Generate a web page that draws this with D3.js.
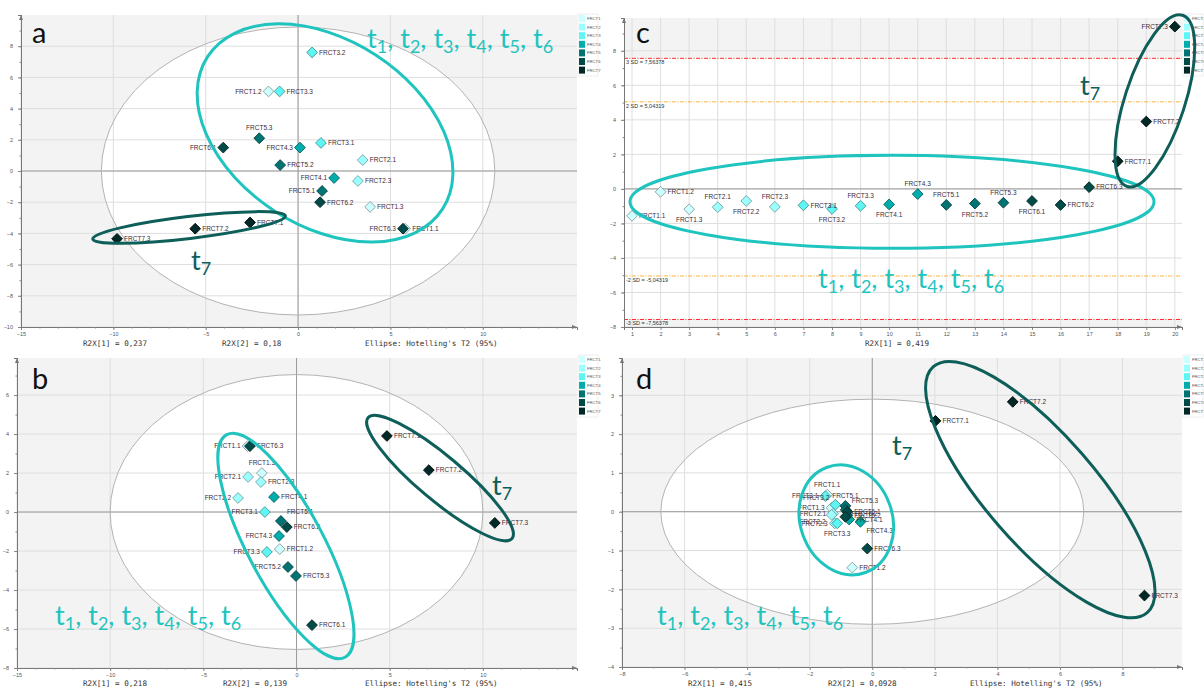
<!DOCTYPE html>
<meta charset="utf-8">
<html>
    <head>
        <style>
            html, body {
                margin: 0;
                padding: 0;
                background: #fff;
            }

            svg {
                display: block;
            }

            .tick text {
                font-family: "Liberation Sans", Arial, sans-serif;
                font-size: 5.5px;
                fill: #555;
            }

            .pt-label {
                font-family: "Liberation Sans", Arial, sans-serif;
                font-size: 6.5px;
                fill: #3b2b3b;
            }

            .stat {
                font-family: "DejaVu Sans Mono", monospace;
                font-size: 7.6px;
                fill: #333;
            }

            .letter {
                font-family: Lato, "Open Sans", sans-serif;
                font-size: 29px;
                fill: #111;
            }

            .note {
                font-family: Lato, "Open Sans", sans-serif;
                font-size: 27px;
            }
        </style>
    </head>
    <body>
        <svg width="1204" height="691"></svg>

        <script src="https://cdn.jsdelivr.net/npm/d3@7"></script>
        <script>
            var groupNames = ["FRCT1", "FRCT2", "FRCT3", "FRCT4", "FRCT5", "FRCT6", "FRCT7"];
            var groupColors = ["#ccffff", "#9cffff", "#5ef5f5", "#00adad", "#007373", "#004a47", "#002826"];
            var groupStrokes = ["#8fa0a0", "#7aa3a3", "#4d9898", "#0b6363", "#0c4444", "#082a28", "#040f0f"];

            // a: score plot, t[1] vs t[2]
            var aSample = ["FRCT1.1", "FRCT1.2", "FRCT1.3", "FRCT2.1", "FRCT2.3", "FRCT3.1", "FRCT3.2", "FRCT3.3",
                "FRCT4.1", "FRCT4.3", "FRCT5.1", "FRCT5.2", "FRCT5.3", "FRCT6.1", "FRCT6.2", "FRCT6.3",
                "FRCT7.1", "FRCT7.2", "FRCT7.3"];
            var aT1 = [5.8, -1.6, 3.9, 3.5, 3.24, 1.24, 0.76, -1.0, 1.95, 0.1, 1.3, -0.97, -2.1, -4.05, 1.19, 5.68, -2.6, -5.57, -9.8];
            var aT2 = [-3.7, 5.1, -2.3, 0.7, -0.64, 1.8, 7.6, 5.1, -0.45, 1.5, -1.28, 0.38, 2.1, 1.5, -2.0, -3.7, -3.3, -3.7, -4.35];
            var aSide = ["r", "l", "r", "r", "r", "r", "r", "r", "l", "l", "l", "r", "t", "l", "r", "l", "r", "r", "r"];

            // b: score plot, t[1] vs t[2]
            var bSample = ["FRCT1.1", "FRCT1.2", "FRCT1.3", "FRCT2.1", "FRCT2.2", "FRCT2.3", "FRCT3.1", "FRCT3.3",
                "FRCT4.1", "FRCT4.3", "FRCT5.1", "FRCT5.2", "FRCT5.3", "FRCT6.1", "FRCT6.2", "FRCT6.3",
                "FRCT7.1", "FRCT7.2", "FRCT7.3"];
            var bT1 = [-2.63, -0.9, -1.86, -2.6, -3.14, -1.91, -1.7, -1.59, -1.21, -0.94, -0.84, -0.46, -0.03, 0.83, -0.52, -2.5, 4.85, 7.1, 10.64];
            var bT2 = [3.38, -1.9, 2.0, 1.8, 0.72, 1.54, 0.0, -2.05, 0.77, -1.23, -0.46, -2.82, -3.28, -5.8, -0.77, 3.38, 3.9, 2.15, -0.56];
            var bSide = ["l", "r", "t", "l", "l", "r", "l", "l", "r", "l", "ur", "l", "r", "r", "r", "r", "r", "r", "r"];

            // c: t[1] by observation number, with SD limits
            var cSample = ["FRCT1.1", "FRCT1.2", "FRCT1.3", "FRCT2.1", "FRCT2.2", "FRCT2.3", "FRCT3.1", "FRCT3.2", "FRCT3.3",
                "FRCT4.1", "FRCT4.3", "FRCT5.1", "FRCT5.2", "FRCT5.3", "FRCT6.1", "FRCT6.2", "FRCT6.3",
                "FRCT7.1", "FRCT7.2", "FRCT7.3"];
            var cNum = d3.range(1, 21);
            var cT1 = [-1.56, -0.17, -1.18, -1.06, -0.7, -1.04, -0.95, -1.16, -0.98, -0.9, -0.3, -0.93, -0.85, -0.8, -0.7, -0.93, 0.1, 1.6, 3.9, 9.4];
            var cSide = ["r", "r", "b", "t", "b", "t", "r", "b", "t", "b", "t", "t", "b", "t", "b", "r", "r", "r", "r", "l"];
            var cLimits = [7.56378, 5.04319, -5.04319, -7.56378];
            var cLimitText = ["3 SD = 7,56378", "2 SD = 5,04319", "-2 SD = -5,04319", "-3 SD = -7,56378"];

            // d: score plot, t[1] vs t[2]
            var dSample = ["FRCT1.1", "FRCT1.2", "FRCT1.3", "FRCT2.1", "FRCT2.2", "FRCT2.3", "FRCT3.1", "FRCT3.2", "FRCT3.3",
                "FRCT4.1", "FRCT4.3", "FRCT5.1", "FRCT5.2", "FRCT5.3", "FRCT6.1", "FRCT6.2", "FRCT6.3",
                "FRCT7.1", "FRCT7.2", "FRCT7.3"];
            var dT1 = [-1.44, -0.64, -1.3, -1.25, -1.3, -1.2, -1.5, -1.18, -1.12, -0.74, -0.38, -0.86, -0.8, -0.85, -0.8, -0.86, -0.16, 2.02, 4.49, 8.7];
            var dT2 = [0.44, -1.44, 0.1, -0.05, -0.08, -0.3, 0.4, 0.18, -0.3, -0.2, -0.26, 0.15, -0.1, 0.05, 0.0, -0.13, -0.95, 2.34, 2.83, -2.16];
            var dSide = ["t", "r", "l", "l", "bl", "l", "l", "tl", "b", "r", "br", "t", "r", "ur", "r", "ur2", "r", "r", "r", "r"];

            var svg = d3.select("svg");

            // where a point label goes: dx, dy, anchor
            var labelPlace = {
                r: [7, 2.3, "start"],
                l: [-7, 2.3, "end"],
                t: [0, -8, "middle"],
                b: [0, 13, "middle"],
                ur: [6, -7, "start"],
                ur2: [6, -1, "start"],
                br: [6, 11, "start"],
                bl: [-6, 9, "end"],
                tl: [-6, -5, "end"]
            };

            var panels = [
                {
                    letter: "a", letterPos: [32, 43], box: [21, 577, 15, 327],
                    xDomain: [-15, 15.1], yDomain: [-10, 10],
                    xTicks: [-15, -10, -5, 0, 5, 10], yTicks: d3.range(-10, 9, 2),
                    xMinor: d3.range(-15, 16, 1), yMinor: d3.range(-10, 10, 1),
                    samples: aSample, xs: aT1, ys: aT2, side: aSide,
                    hotelling: [10.65, 9.23], zeroX: true,
                    stats: [["R2X[1] = 0,237", 83], ["R2X[2] = 0,18", 222], ["Ellipse: Hotelling's T2 (95%)", 365]], statY: 346,
                    legend: [579, 15],
                    rings: [
                        {c: [1.46, 2.44], r: [140, 93], rot: 33, col: "#1fc4bf"},
                        {c: [-5.9, -3.62], r: [97, 11], rot: -6.8, col: "#0e5e59"}
                    ],
                    notes: [{t: [1, 2, 3, 4, 5, 6], at: [367, 48], col: "#1fc4bf"}, {t: [7], at: [191, 270], col: "#0e5e59"}]
                },
                {
                    letter: "b", letterPos: [32, 389], box: [17, 577, 358, 668],
                    xDomain: [-15, 15.05], yDomain: [-8, 7.9],
                    xTicks: [-15, -10, -5, 0, 5, 10], yTicks: d3.range(-8, 7, 2),
                    xMinor: d3.range(-15, 16, 1), yMinor: d3.range(-8, 8, 1),
                    samples: bSample, xs: bT1, ys: bT2, side: bSide,
                    hotelling: [10, 7.05], zeroX: true,
                    stats: [["R2X[1] = 0,218", 83], ["R2X[2] = 0,139", 223], ["Ellipse: Hotelling's T2 (95%)", 365]], statY: 686,
                    legend: [579, 356],
                    rings: [
                        {c: [-0.57, -1.74], r: [126, 38], rot: 62, col: "#1fc4bf"},
                        {c: [7.7, 1.74], r: [94, 22], rot: 40, col: "#0e5e59"}
                    ],
                    notes: [{t: [1, 2, 3, 4, 5, 6], at: [55, 625], col: "#1fc4bf"}, {t: [7], at: [492, 495], col: "#0e5e59"}]
                },
                {
                    letter: "c", letterPos: [636, 43], box: [624, 1182, 18, 327],
                    xDomain: [0.72, 20.25], yDomain: [-8, 9.9],
                    xTicks: d3.range(1, 21), yTicks: d3.range(-8, 9, 2),
                    xMinor: [], yMinor: d3.range(-8, 10, 1),
                    samples: cSample, xs: cNum, ys: cT1, side: cSide,
                    limits: cLimits, zeroX: false,
                    stats: [["R2X[1] = 0,419", 865]], statY: 346,
                    legend: [1184, 15],
                    rings: [
                        {c: [10.1, -0.75], r: [262, 46.5], rot: 0, col: "#1fc4bf"},
                        {c: [19.3, 5.1], r: [90, 30], rot: -72, col: "#0e5e59"}
                    ],
                    notes: [{t: [1, 2, 3, 4, 5, 6], at: [818, 288], col: "#1fc4bf"}, {t: [7], at: [1080, 95], col: "#0e5e59"}]
                },
                {
                    letter: "d", letterPos: [636, 389], box: [622, 1182, 358, 667],
                    xDomain: [-8, 9.9], yDomain: [-4, 3.96],
                    xTicks: d3.range(-8, 9, 2), yTicks: d3.range(-4, 4, 1),
                    xMinor: d3.range(-8, 10, 1), yMinor: d3.range(-4, 4, 0.5),
                    samples: dSample, xs: dT1, ys: dT2, side: dSide,
                    hotelling: [6.76, 2.9], zeroX: true,
                    stats: [["R2X[1] = 0,415", 688], ["R2X[2] = 0,0928", 828], ["Ellipse: Hotelling's T2 (95%)", 970]], statY: 686,
                    legend: [1184, 356],
                    rings: [
                        {c: [-0.83, -0.21], r: [56, 46], rot: 70, col: "#1fc4bf"},
                        {c: [5.37, 0.57], r: [163, 55], rot: 49, col: "#0e5e59"}
                    ],
                    notes: [{t: [1, 2, 3, 4, 5, 6], at: [657, 625], col: "#1fc4bf"}, {t: [7], at: [892, 455], col: "#0e5e59"}]
                }
            ];

            function groupOf(name) {
                return +name.charAt(4) - 1;
            }

            function drawPanel(p) {
                var g = svg.append("g");
                var x = d3.scaleLinear().domain(p.xDomain).range([p.box[0], p.box[1]]);
                var y = d3.scaleLinear().domain(p.yDomain).range([p.box[3], p.box[2]]);
                var w = p.box[1] - p.box[0],
                    h = p.box[3] - p.box[2];

                g.append("rect")
                    .attr("x", p.box[0]).attr("y", p.box[2])
                    .attr("width", w).attr("height", h)
                    .attr("fill", "#f3f3f3");

                if (p.hotelling) {
                    g.append("ellipse")
                        .attr("cx", x(0)).attr("cy", y(0))
                        .attr("rx", x(p.hotelling[0]) - x(0))
                        .attr("ry", y(0) - y(p.hotelling[1]))
                        .attr("fill", "#fff");
                }
                if (p.limits) {
                    g.append("rect")
                        .attr("x", p.box[0]).attr("y", y(p.limits[0]))
                        .attr("width", w).attr("height", y(p.limits[3]) - y(p.limits[0]))
                        .attr("fill", "#fff");
                }

                // grid
                var grid = g.append("g").attr("stroke", "#dedede").attr("stroke-width", 1);
                grid.selectAll(".gx").data(p.xTicks).enter().append("line")
                    .attr("x1", function (d) { return x(d); }).attr("x2", function (d) { return x(d); })
                    .attr("y1", p.box[2]).attr("y2", p.box[3]);
                grid.selectAll(".gy").data(p.yTicks).enter().append("line")
                    .attr("x1", p.box[0]).attr("x2", p.box[1])
                    .attr("y1", function (d) { return y(d); }).attr("y2", function (d) { return y(d); });

                // zero lines
                g.append("line")
                    .attr("x1", p.box[0]).attr("x2", p.box[1])
                    .attr("y1", y(0)).attr("y2", y(0))
                    .attr("stroke", "#9a9a9a");
                if (p.zeroX) {
                    g.append("line")
                        .attr("x1", x(0)).attr("x2", x(0))
                        .attr("y1", p.box[2]).attr("y2", p.box[3])
                        .attr("stroke", "#9a9a9a");
                }

                if (p.hotelling) {
                    g.append("ellipse")
                        .attr("cx", x(0)).attr("cy", y(0))
                        .attr("rx", x(p.hotelling[0]) - x(0))
                        .attr("ry", y(0) - y(p.hotelling[1]))
                        .attr("fill", "none")
                        .attr("stroke", "#b3b3b3");
                }

                if (p.limits) {
                    var limCol = ["#ff2a2a", "#ffb43c", "#ffb43c", "#ff2a2a"];
                    p.limits.forEach(function (v, i) {
                        g.append("line")
                            .attr("x1", p.box[0]).attr("x2", p.box[1])
                            .attr("y1", y(v)).attr("y2", y(v))
                            .attr("stroke", limCol[i])
                            .attr("stroke-dasharray", "4,1.5,1,1.5");
                        g.append("text")
                            .attr("x", p.box[0] + 2).attr("y", y(v) + 6)
                            .style("font-family", "Liberation Sans, Arial, sans-serif")
                            .style("font-size", "5.5px")
                            .attr("fill", "#333")
                            .text(cLimitText[i]);
                    });
                }

                // axes
                g.append("g")
                    .attr("transform", "translate(0," + p.box[3] + ")")
                    .call(d3.axisBottom(x).tickValues(p.xTicks).tickSize(3).tickPadding(2));
                g.append("g")
                    .attr("transform", "translate(" + p.box[0] + ",0)")
                    .call(d3.axisLeft(y).tickValues(p.yTicks).tickSize(3).tickPadding(5));
                g.append("g")
                    .attr("transform", "translate(0," + p.box[3] + ")")
                    .call(d3.axisBottom(x).tickValues(p.xMinor).tickSize(1.5).tickFormat(""));
                g.append("g")
                    .attr("transform", "translate(" + p.box[0] + ",0)")
                    .call(d3.axisLeft(y).tickValues(p.yMinor).tickSize(1.5).tickFormat(""));
                g.selectAll(".domain").attr("stroke", "#777");
                g.selectAll(".tick line").attr("stroke", "#888");

                // arrow heads
                g.append("path")
                    .attr("d", "M" + (p.box[1] - 5) + "," + (p.box[3] - 2) + "L" + p.box[1] + "," + p.box[3] + "L" + (p.box[1] - 5) + "," + (p.box[3] + 2) + "Z")
                    .attr("fill", "#777");
                g.append("path")
                    .attr("d", "M" + (p.box[0] - 2) + "," + (p.box[2] + 5) + "L" + p.box[0] + "," + p.box[2] + "L" + (p.box[0] + 2) + "," + (p.box[2] + 5) + "Z")
                    .attr("fill", "#777");

                // points
                var pts = p.samples.map(function (s, i) {
                    return {name: s, gi: groupOf(s), x: p.xs[i], y: p.ys[i], side: p.side[i]};
                });
                pts.sort(function (a, b) { return a.gi - b.gi; });

                var sym = d3.symbol().type(d3.symbolSquare).size(58);
                g.append("g").selectAll("path")
                    .data(pts)
                    .enter()
                        .append("path")
                        .attr("d", sym)
                        .attr("transform", function (d) {
                            return "translate(" + x(d.x) + "," + y(d.y) + ") rotate(45)";
                        })
                        .attr("fill", function (d) { return groupColors[d.gi]; })
                        .attr("stroke", function (d) { return groupStrokes[d.gi]; })
                        .attr("stroke-width", 0.9);

                g.append("g").selectAll("text")
                    .data(pts)
                    .enter()
                        .append("text")
                        .attr("class", "pt-label")
                        .attr("x", function (d) { return x(d.x) + labelPlace[d.side][0]; })
                        .attr("y", function (d) { return y(d.y) + labelPlace[d.side][1]; })
                        .attr("text-anchor", function (d) { return labelPlace[d.side][2]; })
                        .text(function (d) { return d.name; });

                // legend
                var lg = g.append("g").attr("transform", "translate(" + p.legend[0] + "," + p.legend[1] + ")");
                lg.append("rect")
                    .attr("x", -1).attr("y", -1).attr("width", 20).attr("height", 62)
                    .attr("fill", "#fff").attr("stroke", "#eee");
                lg.selectAll("rect.sw").data(groupNames).enter().append("rect")
                    .attr("class", "sw")
                    .attr("x", 0).attr("y", function (d, i) { return i * 8.6; })
                    .attr("width", 6).attr("height", 7)
                    .attr("fill", function (d, i) { return groupColors[i]; });
                lg.selectAll("text").data(groupNames).enter().append("text")
                    .attr("x", 8).attr("y", function (d, i) { return i * 8.6 + 5; })
                    .style("font-family", "Liberation Sans, Arial, sans-serif")
                    .style("font-size", "4.2px")
                    .attr("fill", "#555")
                    .text(function (d) { return d; });

                // stats under the axis
                p.stats.forEach(function (s) {
                    g.append("text").attr("class", "stat")
                        .attr("x", s[1]).attr("y", p.statY)
                        .text(s[0]);
                });

                // hand drawn group rings
                p.rings.forEach(function (r) {
                    g.append("ellipse")
                        .attr("transform", "translate(" + x(r.c[0]) + "," + y(r.c[1]) + ") rotate(" + r.rot + ")")
                        .attr("rx", r.r[0]).attr("ry", r.r[1])
                        .attr("fill", "none")
                        .attr("stroke", r.col)
                        .attr("stroke-width", 3);
                });

                // annotations
                p.notes.forEach(function (n) {
                    var t = g.append("text").attr("class", "note")
                        .attr("x", n.at[0]).attr("y", n.at[1])
                        .attr("fill", n.col);
                    n.t.forEach(function (k, i) {
                        t.append("tspan").text("t");
                        t.append("tspan")
                            .attr("dy", 5)
                            .style("font-size", "18px")
                            .text(k);
                        t.append("tspan")
                            .attr("dy", -5)
                            .text(i < n.t.length - 1 ? ", " : "");
                    });
                });

                g.append("text").attr("class", "letter")
                    .attr("x", p.letterPos[0]).attr("y", p.letterPos[1])
                    .text(p.letter);
            }

            panels.forEach(drawPanel);
        </script>
    </body>
</html>
